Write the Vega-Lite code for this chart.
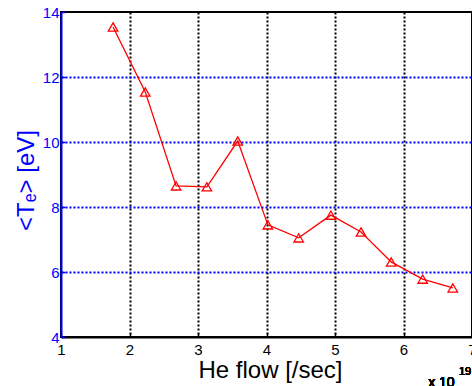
{
  "$schema": "https://vega.github.io/schema/vega-lite/v6.json",
  "width": 411,
  "height": 325,
  "autosize": {"type": "none"},
  "padding": {"left": 61, "top": 12, "right": 0, "bottom": 49},
  "background": "white",
  "config": {
    "font": "Liberation Sans",
    "view": {"stroke": "black", "strokeWidth": 2}
  },
  "data": {
    "values": [
      {"flow": 1.76, "te": 13.54},
      {"flow": 2.23, "te": 11.54},
      {"flow": 2.68, "te": 8.65},
      {"flow": 3.13, "te": 8.62},
      {"flow": 3.58, "te": 10.03},
      {"flow": 4.02, "te": 7.45},
      {"flow": 4.47, "te": 7.05},
      {"flow": 4.94, "te": 7.75},
      {"flow": 5.38, "te": 7.23},
      {"flow": 5.82, "te": 6.31},
      {"flow": 6.28, "te": 5.78},
      {"flow": 6.72, "te": 5.51}
    ]
  },
  "encoding": {
    "x": {
      "field": "flow", "type": "quantitative",
      "scale": {"domain": [1, 7], "nice": false, "zero": false},
      "axis": {
        "values": [1, 2, 3, 4, 5, 6, 7],
        "title": "He flow [/sec]",
        "titleFontSize": 24, "titleFontWeight": "normal", "titleColor": "black",
        "titleX": 209, "titleY": 40, "titleBaseline": "alphabetic", "titleAlign": "center",
        "labelFontSize": 15, "labelColor": "black", "labelPadding": 9,
        "labelFlush": false,
        "domainColor": "black", "domainWidth": 2,
        "tickColor": "black", "tickSize": -4, "tickWidth": 1.5,
        "grid": true,
        "gridColor": {"condition": {"test": "datum.value <= 1 || datum.value >= 7", "value": "transparent"}, "value": "black"},
        "gridDash": [2, 2], "gridWidth": 2, "gridOpacity": 1
      }
    },
    "y": {
      "field": "te", "type": "quantitative",
      "scale": {"domain": [4, 14], "nice": false, "zero": false},
      "axis": {
        "values": [4, 6, 8, 10, 12, 14],
        "title": "<Tₑ> [eV]",
        "titleFontSize": 24, "titleFontWeight": "normal", "titleColor": "#0000ff",
        "titleX": -35, "titleY": 168, "titleBaseline": "middle", "titleAlign": "center", "titleAngle": 270,
        "labelFontSize": 15, "labelColor": "#0000ff", "labelPadding": 6,
        "labelFlush": false,
        "domainColor": "#0000ff", "domainWidth": 2,
        "tickColor": "#0000ff", "tickSize": -4, "tickWidth": 1.5,
        "grid": true,
        "gridColor": {"condition": {"test": "datum.value <= 4 || datum.value >= 14", "value": "transparent"}, "value": "#0000ff"},
        "gridDash": [2, 2], "gridWidth": 2, "gridOpacity": 1
      }
    }
  },
  "layer": [
    {"mark": {"type": "line", "color": "#ff0000", "strokeWidth": 1.3}},
    {"mark": {"type": "point", "shape": "triangle-up", "filled": false, "color": "#ff0000", "size": 90, "strokeWidth": 1.3, "opacity": 1}},
    {
      "mark": {"type": "text", "text": "x 10", "align": "left", "baseline": "alphabetic", "fontSize": 14, "color": "black", "clip": false},
      "encoding": {"x": {"datum": 6.36}, "y": {"datum": 2.45}}
    },
    {
      "mark": {"type": "text", "text": "19", "align": "left", "baseline": "alphabetic", "fontSize": 11, "color": "black", "clip": false},
      "encoding": {"x": {"datum": 6.81}, "y": {"datum": 2.84}}
    }
  ]
}
